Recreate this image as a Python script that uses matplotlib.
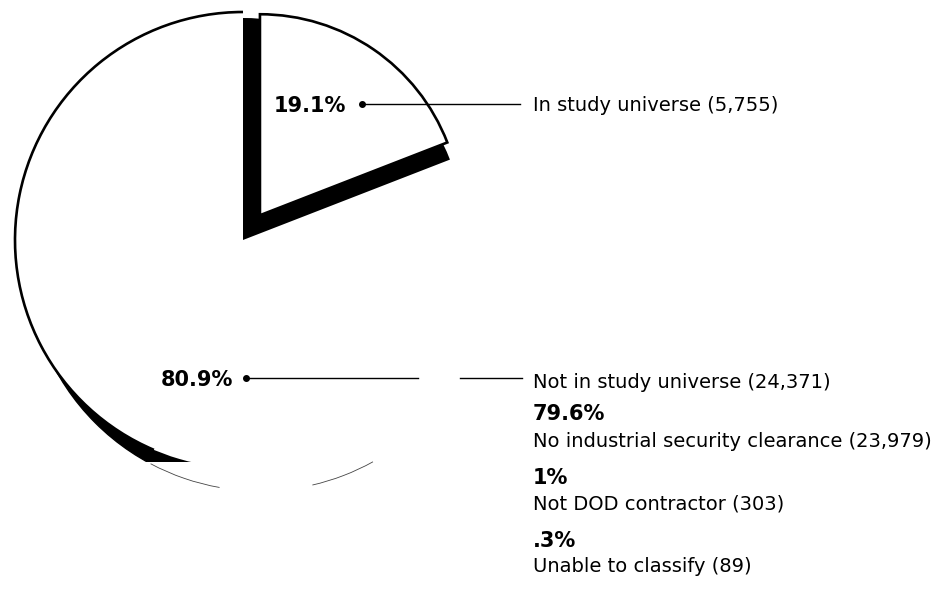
import numpy as np
import matplotlib.pyplot as plt
from matplotlib.patches import Arc, Circle, Rectangle

# ---- data ----
categories = ["In study universe", "Not in study universe"]
counts = [5755, 24371]
sub_pcts = ["79.6%", "1%", ".3%"]
sub_labels = ["No industrial security clearance", "Not DOD contractor", "Unable to classify"]
sub_counts = [23979, 303, 89]

total = sum(counts)
pcts = [f"{100 * c / total:.1f}%" for c in counts]

# ---- layout (pixels, y measured up from bottom) ----
W, H = 944, 607
C = (243, H - 240)        # pie centre
R = 228                   # big slice radius
R_small = 201             # exploded slice radius
R_shadow = 222            # black shadow behind the exploded slice
EXPL = 30                 # pie() explode is in data units here
C_sh = (260, H - 258)     # offset shadow circle (lower edge)
R_sh = 233
LW = 1.9

fig = plt.figure(figsize=(W / 100, H / 100), dpi=100)
ax = fig.add_axes([0, 0, 1, 1])

# main pie
wedges, _ = ax.pie(counts, radius=R, center=C, startangle=90, counterclock=False,
                   explode=[EXPL, 0], colors=["white", "white"],
                   wedgeprops=dict(linewidth=0))
small, big = wedges
small.set_radius(R_small)
small.set_edgecolor("black")
small.set_linewidth(LW)
small.set_zorder(4)
big.set_zorder(2)

# black shadow where the slice was pulled out
shade, _ = ax.pie(counts, radius=R_shadow, center=C, startangle=90, counterclock=False,
                  colors=["black", "none"], wedgeprops=dict(linewidth=0))
shade[0].set_zorder(3)
shade[1].set_visible(False)

# visible part of the big slice outline (rest lost in the print)
ax.add_patch(Arc(C, 2 * R, 2 * R, theta1=big.theta1, theta2=big.theta1 + 157,
                 color="black", lw=LW, zorder=5))

# dark crescent at lower left
cres = Circle(C_sh, R_sh, color="black", zorder=1)
ax.add_patch(cres)
cres.set_clip_path(Rectangle((0, H - 462), 210, 132, transform=ax.transData))

# faint remains of the lower edge
for t1, t2 in [(242, 260), (283, 299)]:
    ax.add_patch(Arc(C_sh, 2 * R_sh, 2 * R_sh, theta1=t1, theta2=t2,
                     color="#444444", lw=0.6, zorder=5))

bold = dict(fontsize=15, fontweight="bold", color="black", zorder=7)
reg = dict(fontsize=14, color="black", zorder=7)
TX = 533

# 19.1% leader
y1 = H - 104
ax.plot([362, 520], [y1, y1], color="black", lw=1.0, zorder=6)
ax.plot([362], [y1], "o", color="black", ms=4, zorder=6)
ax.text(346, H - 111.5, pcts[0], ha="right", va="baseline", **bold)
ax.text(TX, H - 111, f"{categories[0]} ({counts[0]:,})", ha="left", va="baseline", **reg)

# 80.9% leader, broken where it crossed the lost shadow band
y2 = H - 378
xa = C[0] + np.sqrt(R ** 2 - (y2 - C[1]) ** 2) - 6
xb = C_sh[0] + np.sqrt(R_sh ** 2 - (y2 - C_sh[1]) ** 2)
ax.plot([246, xa], [y2, y2], color="black", lw=1.0, zorder=6)
ax.plot([xb, 522], [y2, y2], color="black", lw=1.0, zorder=6)
ax.plot([246], [y2], "o", color="black", ms=4, zorder=6)
ax.text(233, H - 386, pcts[1], ha="right", va="baseline", **bold)
ax.text(TX, H - 388, f"{categories[1]} ({counts[1]:,})", ha="left", va="baseline", **reg)

# breakdown of the not-in-study group
pct_base = [420, 484, 547]
lab_base = [447, 509, 572]
for p, lab, n, yb, yl in zip(sub_pcts, sub_labels, sub_counts, pct_base, lab_base):
    ax.text(TX, H - yb, p, ha="left", va="baseline", **bold)
    ax.text(TX, H - yl, f"{lab} ({n:,})", ha="left", va="baseline", **reg)

ax.set_xlim(0, W)
ax.set_ylim(0, H)
ax.set_aspect("equal")
ax.axis("off")

fig.savefig("out.png", dpi=100, facecolor="white")
